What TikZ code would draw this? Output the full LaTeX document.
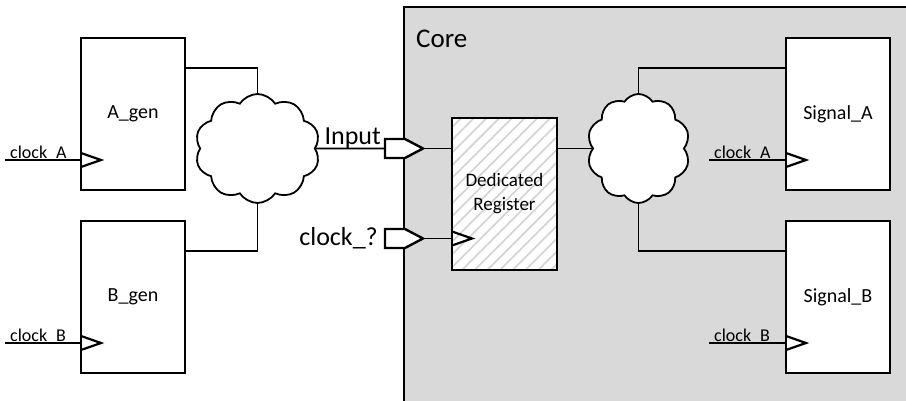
\documentclass[tikz,border=0pt]{standalone}
\usepackage{fontspec}
\setmainfont{Carlito}
\usetikzlibrary{shapes.symbols,patterns.meta,calc}
\definecolor{coregray}{HTML}{D9D9D9}
\definecolor{hatchgray}{HTML}{D2D2D2}
\begin{document}
\begin{tikzpicture}[x=1pt,y=-1pt,
  wire/.style={line width=1.9pt},
  blk/.style={draw, fill=white, line width=2.6pt, minimum width=104pt,
    minimum height=152pt, inner sep=0pt, font=\fontsize{20}{23}\selectfont},
  reg/.style={draw, line width=2.6pt, minimum width=105pt, minimum height=152pt,
    inner sep=0pt, align=center, font=\fontsize{19}{24}\selectfont,
    preaction={fill=white},
    pattern={Lines[angle=45,distance=9pt,line width=1.6pt]}, pattern color=hatchgray},
  clk/.style={line width=2.2pt, line join=miter},
  port/.style={draw, fill=white, line width=2.4pt, line join=miter},
  net/.style={cloud, cloud puffs=10, cloud puff arc=115, draw, fill=white,
    line width=1.8pt, inner sep=0pt},
  clklbl/.style={anchor=base west, inner sep=0pt, font=\fontsize{18}{20}\selectfont},
  biglbl/.style={anchor=base east, inner sep=0pt, font=\fontsize{26}{28}\selectfont}]
\useasboundingbox (0,0) rectangle (906,401);
\clip (0,0) rectangle (906,401);

% core region
\draw[fill=coregray, line width=1.6pt] (404,7) rectangle (930,430);
\node[anchor=base west, inner sep=0pt, font=\fontsize{27}{30}\selectfont] (core) at (416,48) {Core};

% generator blocks
\node[blk] (agen) at (133,114) {A\_gen};
\node[blk] (bgen) at (133,297) {B\_gen};

% generator clocks: labels first, so the wire runs over the underscore
\node[clklbl] (ckA-l) at (10,158.6) {clock\_A};
\node[clklbl] (ckB-l) at (10,341.6) {clock\_B};
\coordinate (ckA) at (5,160);
\coordinate (ckB) at (5,343);
\draw[wire] (ckA) -- (ckA -| agen.west);
\draw[wire] (ckB) -- (ckB -| bgen.west);
\draw[clk] (81,153) -- (101,160) -- (81,167);
\draw[clk] (81,336) -- (101,343) -- (81,350);

% left interconnect cloud
\node[net, minimum width=125pt, minimum height=109pt] (net1) at (257.5,148.5) {};
\draw[wire] ($(agen.north east)+(0,31)$) -| (net1.north);
\draw[wire] (net1.south) |- ($(bgen.north east)+(0,31)$);

% input ports
\draw[port] (385,139) -- (405,139) -- (423,148.5) -- (405,158) -- (385,158) -- cycle;
\coordinate (pin-w) at (385,148.5);
\coordinate (pin-e) at (423,148.5);
\draw[port] (385,229) -- (405,229) -- (423,238.5) -- (405,248) -- (385,248) -- cycle;
\coordinate (pck-e) at (423,238.5);
\node[biglbl] (in-l) at (381,145) {Input};
\node[biglbl] (ck-l) at (378,246) {clock\_?};
\draw[wire] (net1.east) -- (pin-w);

% dedicated register
\node[reg] (reg) at (504.5,194) {Dedicated\\Register};
\draw[wire] (pin-e) -- (pin-e -| reg.west);
\draw[wire] (pck-e) -- (pck-e -| reg.west);
\draw[clk] (452,231.5) -- (472,238.5) -- (452,245.5);

% right interconnect cloud
\node[net, minimum width=103pt, minimum height=109pt] (net2) at (638.5,148.5) {};
\draw[wire] (net2.west -| reg.east) -- (net2.west);

% signal blocks
\node[blk] (siga) at (838,114) {Signal\_A};
\node[blk] (sigb) at (838,297) {Signal\_B};
\draw[wire] (net2.north) |- ($(siga.north west)+(0,31)$);
\draw[wire] (net2.south) |- ($(sigb.north west)+(0,31)$);

% signal clocks
\node[clklbl] (ckA2-l) at (714,158.6) {clock\_A};
\node[clklbl] (ckB2-l) at (714,341.6) {clock\_B};
\coordinate (ckA2) at (709,160);
\coordinate (ckB2) at (709,343);
\draw[wire] (ckA2) -- (ckA2 -| siga.west);
\draw[wire] (ckB2) -- (ckB2 -| sigb.west);
\draw[clk] (786,153) -- (806,160) -- (786,167);
\draw[clk] (786,336) -- (806,343) -- (786,350);
\end{tikzpicture}
\end{document}
